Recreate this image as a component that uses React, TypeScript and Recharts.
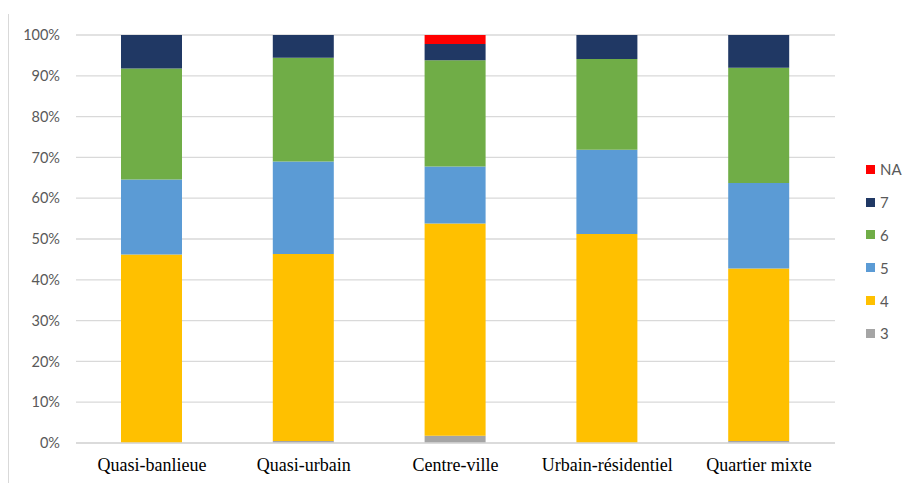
import React from 'react';
import { BarChart, Bar, XAxis, YAxis, CartesianGrid, Legend } from 'recharts';

const categories = [
	'Quasi-banlieue',
	'Quasi-urbain',
	'Centre-ville',
	'Urbain-résidentiel',
	'Quartier mixte'
];

// share of answers (%) per category, one array per answer level
const level3 = [0, 0.5, 1.8, 0, 0.5];
const level4 = [46.2, 45.8, 52.0, 51.2, 42.3];
const level5 = [18.4, 22.7, 14.0, 20.7, 20.9];
const level6 = [27.2, 25.4, 26.0, 22.2, 28.3];
const level7 = [8.2, 5.6, 4.0, 5.9, 8.0];
const levelNA = [0, 0, 2.2, 0, 0];

const yTicks = [0, 0.1, 0.2, 0.3, 0.4, 0.5, 0.6, 0.7, 0.8, 0.9, 1];

const series = [
	{ key: '3', values: level3, color: '#A5A5A5' },
	{ key: '4', values: level4, color: '#FFC000' },
	{ key: '5', values: level5, color: '#5B9BD5' },
	{ key: '6', values: level6, color: '#70AD47' },
	{ key: '7', values: level7, color: '#203864' },
	{ key: 'NA', values: levelNA, color: '#FF0000' }
];

const data = categories.map((name, i) => {
	const row: Record<string, string | number> = { name };
	series.forEach(s => {
		row[s.key] = s.values[i];
	});
	return row;
});

const LegendBox = () => (
	<div style={{ fontFamily: 'Lato, sans-serif', fontSize: 15, color: '#595959' }}>
		{[...series].reverse().map(s => (
			<div
				key={s.key}
				style={{ height: 32.8, display: 'flex', alignItems: 'center' }}
			>
				<span
					style={{
						width: 9,
						height: 9,
						background: s.color,
						display: 'inline-block',
						marginRight: 5
					}}
				/>
				{s.key}
			</div>
		))}
	</div>
);

const App = () => {
	return (
		<div
			style={{
				position: 'fixed',
				left: 0,
				top: 0,
				width: 907,
				height: 483,
				background: '#fff'
			}}
		>
			<div
				style={{
					position: 'absolute',
					left: 8,
					top: 14,
					bottom: 0,
					borderLeft: '1px solid #d9d9d9'
				}}
			/>
			<BarChart
				width={907}
				height={483}
				data={data}
				stackOffset="expand"
				barSize={61}
				margin={{ top: 35, right: 31, bottom: 10, left: 0 }}
			>
				<CartesianGrid vertical={false} stroke="#d9d9d9" strokeWidth={1.3} />
				<XAxis
					dataKey="name"
					height={30}
					axisLine={{ stroke: '#d9d9d9', strokeWidth: 1.3 }}
					tickLine={false}
					tickSize={0}
					tickMargin={15}
					interval={0}
					tick={{ fill: '#000', fontSize: 18, fontFamily: '"Liberation Serif", serif' }}
				/>
				<YAxis
					width={76}
					axisLine={false}
					tickLine={false}
					tickSize={0}
					tickMargin={16}
					ticks={yTicks}
					domain={[0, 1]}
					tickFormatter={v => `${Math.round(v * 100)}%`}
					tick={{ fill: '#595959', fontSize: 14.5, fontFamily: 'Lato, sans-serif' }}
				/>
				<Legend
					layout="vertical"
					align="right"
					verticalAlign="top"
					content={<LegendBox />}
					wrapperStyle={{ left: 866, top: 153, width: 41 }}
				/>
				{series.map(s => (
					<Bar
						key={s.key}
						dataKey={s.key}
						stackId="a"
						fill={s.color}
						isAnimationActive={false}
					/>
				))}
			</BarChart>
		</div>
	);
};

export default App;
